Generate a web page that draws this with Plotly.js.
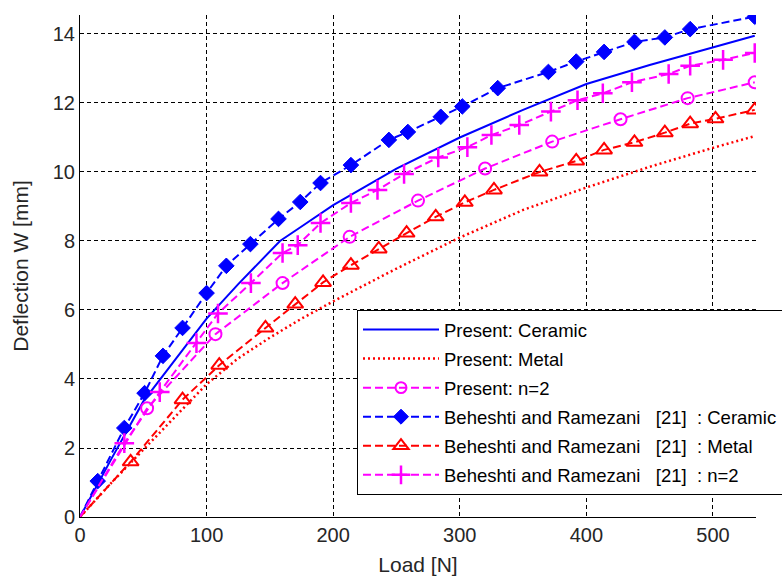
<!DOCTYPE html>
<html>
<head>
<meta charset="utf-8">
<script src="https://cdn.plot.ly/plotly-3.0.1.min.js"></script>
<style>html,body{margin:0;padding:0;background:#fff;}#chart{width:782px;height:582px;}</style>
</head>
<body>
<div id="chart"></div>
<script>
// Present: Ceramic (solid blue)
const loadPresentCeramic = [0, 25, 50, 75, 100, 125, 150, 158, 175, 200, 250, 300, 350, 400, 450, 500, 533];
const wPresentCeramic    = [0, 1.7, 3.35, 4.55, 5.75, 6.75, 7.7, 8.0, 8.42, 9.04, 10.1, 11.0, 11.8, 12.55, 13.1, 13.6, 13.95];

// Present: Metal (dotted red)
const loadPresentMetal = [0, 25, 50, 75, 100, 125, 150, 175, 200, 250, 300, 350, 400, 450, 500, 533];
const wPresentMetal    = [0, 1.0, 1.95, 2.9, 3.85, 4.6, 5.2, 5.75, 6.25, 7.2, 8.1, 8.9, 9.55, 10.15, 10.7, 11.04];

// Present: n=2 (dashed magenta, circles)
const loadPresentN2 = [0, 53, 107, 160, 213, 267, 320, 373, 427, 480, 533];
const wPresentN2    = [0, 3.15, 5.3, 6.78, 8.12, 9.17, 10.1, 10.88, 11.53, 12.14, 12.6];

// Beheshti and Ramezani [21]: Ceramic (dashed blue, diamonds)
const loadRefCeramic = [0, 14, 35, 51, 65.5, 81, 100, 115.6, 134.6, 156.8, 174, 190, 214, 244, 259, 285, 302, 330, 370, 392, 414, 438, 462, 482, 533];
const wRefCeramic    = [0, 1.04, 2.58, 3.59, 4.67, 5.48, 6.49, 7.28, 7.91, 8.64, 9.13, 9.68, 10.2, 10.93, 11.16, 11.6, 11.9, 12.43, 12.9, 13.2, 13.48, 13.77, 13.9, 14.14, 14.5];

// Beheshti and Ramezani [21]: Metal (dashed red, triangles)
const loadRefMetal = [0, 40, 81, 110, 146.5, 170, 192, 214, 236, 258, 281, 304, 327, 363, 392, 414, 438, 462, 482, 502, 533];
const wRefMetal    = [0, 1.6, 3.4, 4.4, 5.48, 6.17, 6.8, 7.3, 7.77, 8.23, 8.7, 9.12, 9.48, 10.0, 10.32, 10.64, 10.86, 11.14, 11.4, 11.54, 11.8];

// Beheshti and Ramezani [21]: n=2 (dashed magenta, plus)
const loadRefN2 = [0, 35, 63, 92, 109, 135, 160, 172, 190, 214, 235, 256, 283, 306, 325, 347, 372, 393, 413, 436, 465, 482, 508, 533];
const wRefN2    = [0, 2.14, 3.62, 5.04, 5.9, 6.78, 7.65, 7.88, 8.52, 9.1, 9.48, 9.94, 10.42, 10.72, 11.07, 11.36, 11.75, 12.08, 12.28, 12.6, 12.84, 13.08, 13.25, 13.45];

const seriesNames = [
  'Present: Ceramic',
  'Present: Metal',
  'Present: n=2',
  'Beheshti and Ramezani\u00a0\u00a0\u00a0[21]\u00a0\u00a0: Ceramic',
  'Beheshti and Ramezani\u00a0\u00a0\u00a0[21]\u00a0\u00a0: Metal',
  'Beheshti and Ramezani\u00a0\u00a0\u00a0[21]\u00a0\u00a0: n=2'
];

const BLUE = '#0000ff', RED = '#ff0000', MAG = '#ff00ff';
const DASH = '8px,4px';

function sizes(arr, s) { return arr.map((v, i) => (i === 0 && v === 0) ? 0 : s); }

const traces = [
  {x: loadPresentCeramic, y: wPresentCeramic, name: seriesNames[0], legendgroup: 'g1', mode: 'lines',
   line: {color: BLUE, width: 2}},
  {x: loadPresentMetal, y: wPresentMetal, name: seriesNames[1], legendgroup: 'g2', mode: 'lines',
   line: {color: RED, width: 2.5, dash: '2px,3px'}},
  {x: loadPresentN2, y: wPresentN2, name: seriesNames[2], legendgroup: 'g3', mode: 'lines+markers',
   line: {color: MAG, width: 2, dash: DASH},
   marker: {symbol: 'circle-open', size: sizes(loadPresentN2, 12), opacity: 1, color: MAG, line: {width: 2, color: MAG}}},
  {x: loadRefCeramic, y: wRefCeramic, name: seriesNames[3], legendgroup: 'g4', mode: 'lines+markers',
   line: {color: BLUE, width: 2, dash: DASH},
   marker: {symbol: 'diamond', size: sizes(loadRefCeramic, 12), opacity: 1, color: BLUE, line: {width: 1, color: BLUE}}},
  {x: loadRefMetal, y: wRefMetal, name: seriesNames[4], legendgroup: 'g5', mode: 'lines+markers',
   line: {color: RED, width: 2, dash: DASH},
   marker: {symbol: 'triangle-up-open', size: sizes(loadRefMetal, 14), opacity: 1, color: RED, line: {width: 2, color: RED}}},
  {x: loadRefN2, y: wRefN2, name: seriesNames[5], legendgroup: 'g6', mode: 'lines+markers',
   line: {color: MAG, width: 2, dash: DASH},
   marker: {symbol: 'cross-thin-open', size: sizes(loadRefN2, 14), opacity: 1, color: MAG, line: {width: 2.5, color: MAG}}}
];

const xTicks = [0, 100, 200, 300, 400, 500];
const yTicks = [0, 2, 4, 6, 8, 10, 12, 14];
const FONT = 'Liberation Sans, Arial, sans-serif';

const layout = {
  width: 782, height: 582,
  margin: {l: 80, r: 26, t: 15, b: 65, autoexpand: false},
  paper_bgcolor: '#fff', plot_bgcolor: '#fff',
  font: {family: FONT, color: '#262626'},
  showlegend: true,
  legend: {
    x: (357 - 80) / 676, y: (517 - 310) / 502, xanchor: 'left', yanchor: 'top',
    bgcolor: '#fff', bordercolor: '#000', borderwidth: 1,
    font: {family: FONT, size: 18.5, color: '#000'},
    tracegroupgap: 2, itemwidth: 76
  },
  xaxis: {
    range: [0, 534], tickvals: xTicks, ticktext: xTicks.map(String),
    showline: true, linecolor: '#000', linewidth: 1, mirror: false,
    showgrid: true, gridcolor: '#000', gridwidth: 1, griddash: '4px,3px',
    zeroline: false, ticks: '', tickfont: {size: 20, color: '#262626'},
    title: {text: 'Load [N]', font: {size: 21, color: '#262626'}, standoff: 12}
  },
  yaxis: {
    range: [0, 14.55], tickvals: yTicks, ticktext: yTicks.map(String),
    showline: true, linecolor: '#000', linewidth: 1, mirror: false,
    showgrid: true, gridcolor: '#000', gridwidth: 1, griddash: '4px,3px',
    zeroline: false, ticks: '', tickfont: {size: 20, color: '#262626'},
    title: {text: 'Deflection W [mm]', font: {size: 21, color: '#262626'}, standoff: 18}
  }
};

Plotly.newPlot('chart', traces, layout, {displayModeBar: false, staticPlot: true});
</script>
</body>
</html>
